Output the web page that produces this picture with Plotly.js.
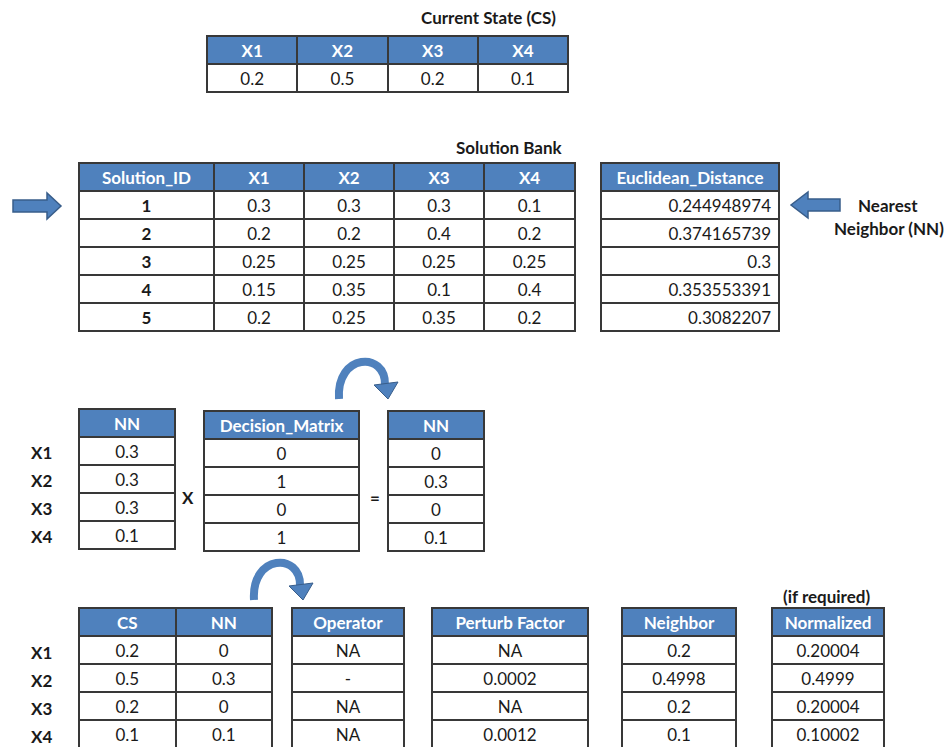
<!DOCTYPE html>
<html>
<head>
<meta charset="utf-8">
<script src="https://cdn.plot.ly/plotly-3.0.1.min.js"></script>
<style>
  html, body { margin: 0; padding: 0; background: #fff; }
  #plot { width: 951px; height: 748px; }
</style>
</head>
<body>
<div id="plot"></div>
<script>
// data
var varLabels = ["X1", "X2", "X3", "X4"];
var currentState = ["0.2", "0.5", "0.2", "0.1"];

var bankHeader = ["Solution_ID", "X1", "X2", "X3", "X4"];
var solutionIds = ["1", "2", "3", "4", "5"];
var bankX1 = ["0.3", "0.2", "0.25", "0.15", "0.2"];
var bankX2 = ["0.3", "0.2", "0.25", "0.35", "0.25"];
var bankX3 = ["0.3", "0.4", "0.25", "0.1", "0.35"];
var bankX4 = ["0.1", "0.2", "0.25", "0.4", "0.2"];
var euclidean = ["0.244948974", "0.374165739", "0.3", "0.353553391", "0.3082207"];

var nnValues = ["0.3", "0.3", "0.3", "0.1"];
var decisionMatrix = ["0", "1", "0", "1"];
var nnMasked = ["0", "0.3", "0", "0.1"];

var csColumn = ["0.2", "0.5", "0.2", "0.1"];
var nnColumn = ["0", "0.3", "0", "0.1"];
var operator = ["NA", "-", "NA", "NA"];
var perturbFactor = ["NA", "0.0002", "NA", "0.0012"];
var neighbor = ["0.2", "0.4998", "0.2", "0.1"];
var normalized = ["0.20004", "0.4999", "0.20004", "0.10002"];

// page geometry (pixels)
var W = 951, H = 748;
var blue = "#4f81bd", edge = "#383838", arrowEdge = "#385d8a";
var fontFam = "Lato, 'Open Sans', sans-serif";
var fs = 17;
function fx(x) { return x / W; }
function fy(y) { return 1 - y / H; }

function table(x0, x1, top, header, cols, opts) {
  opts = opts || {};
  var rowH = 28;
  var n = cols[0].length;
  var bottom = top + rowH * (n + 1) + 4;
  return {
    type: "table",
    domain: { x: [fx(x0), fx(x1)], y: [Math.max(0, fy(bottom)), fy(top)] },
    columnwidth: opts.widths,
    header: {
      values: header,
      fill: { color: blue },
      line: { color: edge, width: 2 },
      align: "center",
      height: rowH,
      font: { family: fontFam, size: fs, color: "#ffffff", weight: "bold" }
    },
    cells: {
      values: cols,
      fill: { color: "#ffffff" },
      line: { color: edge, width: 2 },
      align: opts.align || "center",
      height: rowH,
      font: { family: fontFam, size: fs, color: "#1a1a1a", weight: opts.weights || "normal" }
    }
  };
}

var data = [
  table(207, 568, 36, varLabels, currentState.map(function (v) { return [v]; })),
  table(79, 575, 163, bankHeader, [solutionIds, bankX1, bankX2, bankX3, bankX4],
        { widths: [135, 90, 90, 90, 91], weights: ["bold", "normal", "normal", "normal", "normal"] }),
  table(601, 779, 163, ["Euclidean_Distance"], [euclidean], { align: "right" }),
  table(79, 176, 409, ["NN"], [nnValues]),
  table(204, 359, 411, ["Decision_Matrix"], [decisionMatrix]),
  table(388, 484, 411, ["NN"], [nnMasked]),
  table(79, 272, 608, ["CS", "NN"], [csColumn, nnColumn]),
  table(292, 404, 608, ["Operator"], [operator]),
  table(432, 588, 608, ["Perturb Factor"], [perturbFactor]),
  table(622, 737, 608, ["Neighbor"], [neighbor]),
  table(772, 884, 608, ["Normalized"], [normalized])
];

function label(x, y, text, anchor) {
  return {
    xref: "paper", yref: "paper", x: fx(x), y: fy(y),
    xanchor: anchor || "center", yanchor: "middle", showarrow: false,
    text: text, font: { family: fontFam, size: fs, color: "#1a1a1a", weight: "bold" }
  };
}

var annotations = [
  label(488, 18, "Current State (CS)"),
  label(509, 147, "Solution Bank"),
  label(888, 205, "Nearest"),
  label(889, 228, "Neighbor (NN)"),
  label(826, 596, "(if required)"),
  label(188, 497, "X"),
  label(375, 497, "=")
];
varLabels.forEach(function (v, i) {
  annotations.push(label(41, 452 + i * 28, v));
  annotations.push(label(41, 652 + i * 28, v));
});

function path(pts) {
  return "M" + pts.map(function (p) { return fx(p[0]) + "," + fy(p[1]); }).join(" L") + " Z";
}
function curve(x0, y0, c1x, c1y, c2x, c2y, x1, y1) {
  return "M" + fx(x0) + "," + fy(y0) + " C" + fx(c1x) + "," + fy(c1y) + " " +
    fx(c2x) + "," + fy(c2y) + " " + fx(x1) + "," + fy(y1);
}
function curvedArrow(x, y) {
  // x,y = left foot of the arc
  return [
    { type: "path", xref: "paper", yref: "paper",
      path: curve(x + 3, y, x, y - 46, x + 50, y - 48, x + 49, y - 14),
      line: { color: blue, width: 8 } },
    { type: "path", xref: "paper", yref: "paper",
      path: path([[x + 38, y - 14], [x + 62, y - 17], [x + 52, y]]),
      fillcolor: blue, line: { color: arrowEdge, width: 1 } }
  ];
}

var shapes = [
  { type: "path", xref: "paper", yref: "paper",
    path: path([[13, 200], [47, 200], [47, 193], [61, 206], [47, 219], [47, 212], [13, 212]]),
    fillcolor: blue, line: { color: arrowEdge, width: 1.5 } },
  { type: "path", xref: "paper", yref: "paper",
    path: path([[840, 199], [808, 199], [808, 192], [791, 205], [808, 218], [808, 211], [840, 211]]),
    fillcolor: blue, line: { color: arrowEdge, width: 1.5 } }
].concat(curvedArrow(336, 399), curvedArrow(251, 600));

var layout = {
  width: W, height: H,
  margin: { l: 0, r: 0, t: 0, b: 0 },
  paper_bgcolor: "#ffffff",
  showlegend: false,
  annotations: annotations,
  shapes: shapes
};

Plotly.newPlot("plot", data, layout, { displayModeBar: false, staticPlot: true });
</script>
</body>
</html>
